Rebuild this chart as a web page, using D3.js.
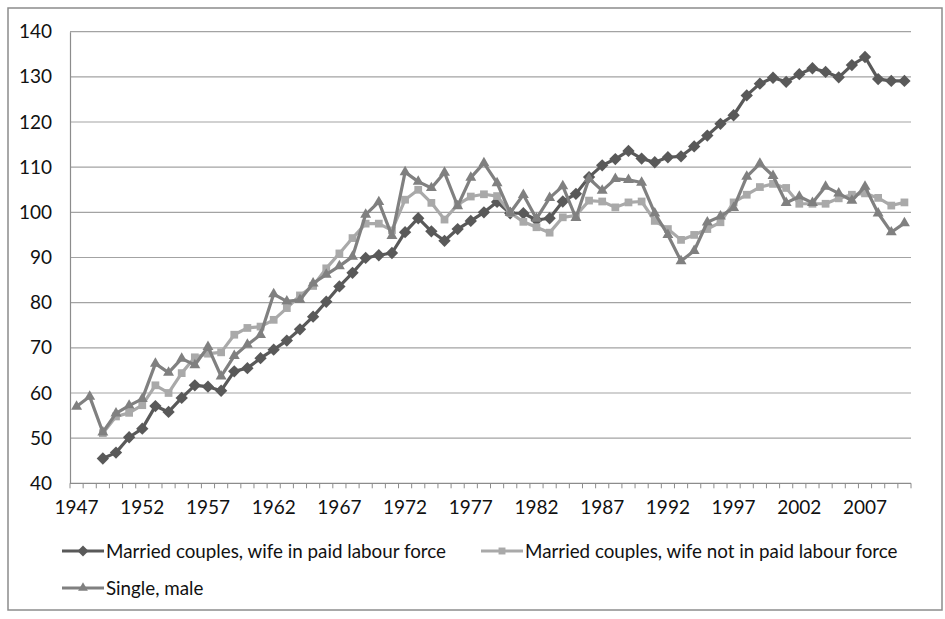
<!DOCTYPE html>
<html>
<head>
<meta charset="utf-8">
<script src="https://cdn.jsdelivr.net/npm/d3@7"></script>
<style>
  html, body { margin: 0; padding: 0; background: #fff; }
  svg { display: block; }
  text { font-family: Lato, "Open Sans", sans-serif; fill: #111; }
</style>
</head>
<body>
<svg id="chart" width="945" height="619"></svg>
<script>
const years = d3.range(1947, 2011);
const yTicks = [40, 50, 60, 70, 80, 90, 100, 110, 120, 130, 140];
const xLabelYears = [1947, 1952, 1957, 1962, 1967, 1972, 1977, 1982, 1987, 1992, 1997, 2002, 2007];

const seriesNames = [
  "Married couples, wife in paid labour force",
  "Married couples, wife not in paid labour force",
  "Single, male"
];

// Married couples, wife in paid labour force (starts 1949)
const marriedWorking = [
  null, null,
  45.5, 46.8, 50.2, 52.1, 57.1, 55.8, 58.9, 61.7, 61.4, 60.5,
  64.8, 65.5, 67.7, 69.6, 71.6, 74.1, 76.9, 80.2, 83.6, 86.6,
  89.9, 90.5, 91.0, 95.6, 98.7, 95.8, 93.7, 96.3, 98.1, 100.0,
  102.3, 99.8, 99.8, 98.3, 98.7, 102.4, 104.1, 107.8, 110.4, 111.8,
  113.6, 111.9, 111.1, 112.2, 112.4, 114.6, 117.0, 119.6, 121.5, 125.9,
  128.5, 129.8, 128.9, 130.6, 131.9, 131.1, 129.9, 132.6, 134.4, 129.5,
  129.1, 129.1
];

// Married couples, wife not in paid labour force (starts 1949)
const marriedNotWorking = [
  null, null,
  51.1, 54.8, 55.6, 57.3, 61.7, 60.0, 64.4, 67.9, 68.7, 69.0,
  72.9, 74.4, 74.7, 76.2, 78.8, 81.6, 83.7, 87.6, 90.9, 94.3,
  97.5, 97.5, 96.0, 102.8, 105.0, 102.1, 98.4, 101.7, 103.5, 104.0,
  103.6, 99.9, 97.9, 96.7, 95.5, 98.9, 99.3, 102.6, 102.4, 101.1,
  102.2, 102.4, 98.1, 96.3, 93.9, 95.0, 96.3, 97.8, 102.2, 103.9,
  105.6, 106.3, 105.4, 101.9, 101.9, 101.9, 103.1, 103.9, 104.2, 103.2,
  101.5, 102.2
];

// Single, male (starts 1947)
const singleMale = [
  57.0, 59.2,
  51.3, 55.5, 57.2, 58.7, 66.5, 64.5, 67.6, 66.2, 70.2, 63.7,
  68.2, 70.7, 72.9, 81.9, 80.3, 80.6, 84.3, 86.2, 88.1, 90.2,
  99.5, 102.3, 94.8, 108.9, 106.8, 105.4, 108.8, 101.4, 107.7, 110.9,
  106.5, 99.9, 103.9, 98.6, 103.2, 105.8, 98.8, 107.5, 104.8, 107.4,
  107.2, 106.6, 99.8, 95.0, 89.2, 91.5, 97.8, 99.1, 101.0, 107.9,
  110.8, 108.1, 102.1, 103.5, 102.1, 105.7, 104.2, 102.6, 105.7, 99.8,
  95.6, 97.6
];

const seriesColors = ["#595959", "#a9a9a9", "#808080"];
const seriesSymbols = ["diamond", "square", "triangle"];

const svg = d3.select("#chart");

// outer frame
svg.append("rect")
  .attr("x", 8).attr("y", 8).attr("width", 934).attr("height", 602)
  .attr("fill", "#fff").attr("stroke", "#8c8c8c").attr("stroke-width", 1.5);

const plot = { left: 70, right: 911, top: 31.7, bottom: 483.3 };

const x = d3.scaleBand().domain(years).range([plot.left, plot.right]).padding(0);
const y = d3.scaleLinear().domain([40, 140]).range([plot.bottom, plot.top]);
const cx = d => x(d) + x.bandwidth() / 2;

// gridlines
svg.append("g").selectAll("line")
  .data(yTicks.filter(t => t > 40))
  .join("line")
  .attr("x1", plot.left).attr("x2", plot.right)
  .attr("y1", d => y(d)).attr("y2", d => y(d))
  .attr("stroke", "#a3a3a3").attr("stroke-width", 1.2);

// y axis
const yAxis = d3.axisLeft(y).tickValues(yTicks).tickSize(0).tickPadding(18);
const gy = svg.append("g").attr("transform", `translate(${plot.left},0)`).call(yAxis);
gy.select(".domain").attr("stroke", "#8c8c8c").attr("stroke-width", 1.2);
gy.selectAll("text").style("font-size", "19px").attr("fill", "#111");

// x axis: labels at band centres, ticks at band boundaries
const xAxis = d3.axisBottom(x).tickValues(xLabelYears).tickSize(0).tickPadding(17);
const gx = svg.append("g").attr("transform", `translate(0,${plot.bottom})`).call(xAxis);
gx.select(".domain").remove();
gx.selectAll("text").style("font-size", "19px").attr("fill", "#111");

const boundaries = years.map(d => x(d)).concat([plot.right]);
const gt = svg.append("g");
gt.append("line")
  .attr("x1", plot.left).attr("x2", plot.right)
  .attr("y1", plot.bottom).attr("y2", plot.bottom)
  .attr("stroke", "#8c8c8c").attr("stroke-width", 1.2);
gt.selectAll("line.tk").data(boundaries).join("line").attr("class", "tk")
  .attr("x1", d => d).attr("x2", d => d)
  .attr("y1", plot.bottom).attr("y2", plot.bottom + 5)
  .attr("stroke", "#8c8c8c").attr("stroke-width", 1);

// symbols
function symbolPath(kind, scale) {
  scale = scale || 1;
  if (kind === "diamond") return d3.symbol(d3.symbolSquare, 76 * scale)();
  if (kind === "square") return d3.symbol(d3.symbolSquare, 60 * scale)();
  return d3.symbol(d3.symbolTriangle, 52 * scale)();
}
function symbolRot(kind) { return kind === "diamond" ? " rotate(45)" : ""; }

const allSeries = [marriedWorking, marriedNotWorking, singleMale];

allSeries.forEach((vals, i) => {
  const pts = years.map((yr, j) => ({ yr, v: vals[j] })).filter(p => p.v != null);
  const line = d3.line().x(p => cx(p.yr)).y(p => y(p.v));
  const g = svg.append("g");
  g.append("path").datum(pts).attr("d", line)
    .attr("fill", "none").attr("stroke", seriesColors[i])
    .attr("stroke-width", 3.2).attr("stroke-linejoin", "round");
  g.selectAll("path.m").data(pts).join("path").attr("class", "m")
    .attr("d", symbolPath(seriesSymbols[i]))
    .attr("transform", p => `translate(${cx(p.yr)},${y(p.v)})${symbolRot(seriesSymbols[i])}`)
    .attr("fill", seriesColors[i]);
});

// legend
const legendPos = [
  { x: 62, y: 551 },
  { x: 481, y: 551 },
  { x: 62, y: 588 }
];
seriesNames.forEach((name, i) => {
  const p = legendPos[i];
  const g = svg.append("g").attr("transform", `translate(${p.x},${p.y})`);
  g.append("line").attr("x1", 0).attr("x2", 42).attr("y1", 0).attr("y2", 0)
    .attr("stroke", seriesColors[i]).attr("stroke-width", 3.2);
  g.append("path").attr("d", symbolPath(seriesSymbols[i], 0.8))
    .attr("transform", `translate(21,0)${symbolRot(seriesSymbols[i])}`)
    .attr("fill", seriesColors[i]);
  g.append("text").attr("x", 44).attr("y", 6.5)
    .style("font-size", "18.8px").text(name);
});
</script>
</body>
</html>
